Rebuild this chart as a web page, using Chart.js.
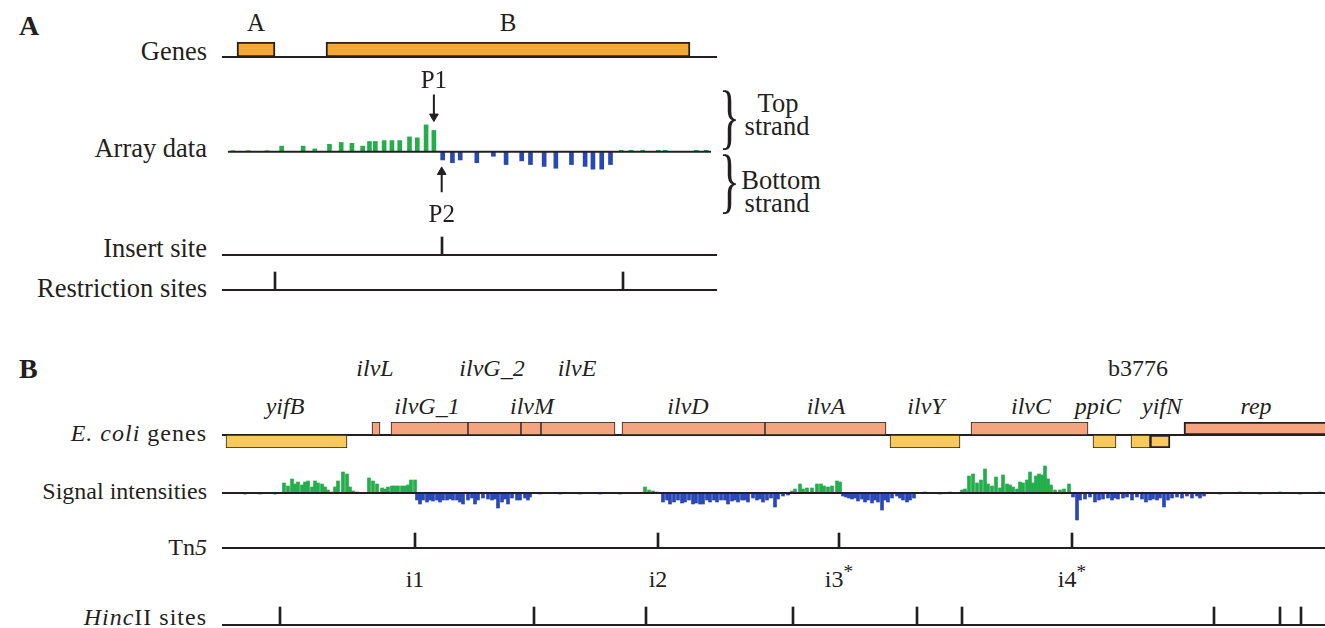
<!DOCTYPE html>
<html><head><meta charset="utf-8">
<script src="https://cdn.jsdelivr.net/npm/chart.js@4.4.1/dist/chart.umd.min.js"></script>
<style>
html,body{margin:0;padding:0;background:#fff;}
#fig{position:relative;width:1325px;height:628px;overflow:hidden;font-family:'Liberation Serif','Times New Roman',serif;color:#231f20;}
.lbl{position:absolute;white-space:nowrap;line-height:1;}
canvas{position:absolute;}
</style></head><body><div id="fig"></div>
<script>
// ---------------- DATA (positions in bp along each map) ----------------
// Panel A
const genesA_names = ['A', 'B'];
const genesA_start = [150, 1040];
const genesA_end   = [530, 4680];
const arrayA_topPos = [50,210,400,550,770,890,1040,1160,1270,1380,1450,1510,1600,1680,1760,1860,1940,2030,2110,4030,4130,4250,4410,4480,4800,4900];
const arrayA_topVal = [0.1,0.1,0.1,0.6,0.6,0.3,0.8,1.0,0.9,0.6,1.1,1.1,1.2,1.2,1.2,1.6,1.5,2.9,2.3,0.15,0.15,0.15,0.15,0.15,0.15,0.15];
const arrayA_botPos = [2200,2300,2380,2550,2720,2850,3010,3100,3240,3360,3520,3660,3740,3830,3920];
const arrayA_botVal = [-0.9,-1.2,-0.9,-1.2,-0.5,-1.4,-1.0,-1.4,-1.6,-1.8,-1.4,-1.6,-1.9,-1.9,-1.4];
const promoterNames = ['P1', 'P2'];
const promoterPos   = [2110, 2190];
const insertSiteA   = [2200];
const restrictionA  = [530, 4010];

// Panel B
const genesB_names  = ['yifB','ilvL','ilvG_1','ilvG_2','ilvM','ilvE','ilvD','ilvA','ilvY','ilvC','ppiC','b3776','yifN','rep'];
const genesB_start  = [80,3000,3380,4920,5980,6380,8000,10860,13360,14980,17420,18180,18560,19240];
const genesB_end    = [2500,3160,4920,5980,6380,7860,10860,13280,14760,17320,17880,18560,18960,22600];
const genesB_strand = ['-','+','+','+','+','+','+','+','-','+','-','-','-','+'];
const genesB_labelX = [1260,3060,4100,5400,6200,7100,9320,12080,14080,16180,17520,18320,18800,20680];
const genesB_labelRow = [2,1,2,1,2,1,2,2,2,2,2,1,2,2];

const sigTopPos = [1240,1320,1400,1460,1520,1600,1660,1720,1800,1860,1920,2000,2060,2120,2200,2260,2320,2420,2500,2560,2620,2700,
  2940,3020,3100,3200,3260,3320,3400,3460,3520,3600,3660,3720,3780,3860,
  8460,8540,8620,8700,
  11400,11460,11560,11620,11700,11800,11900,11980,12040,12120,12200,12300,12360,
  14060,14560,
  14800,14860,14940,15020,15100,15180,15260,15320,15400,15480,15560,15620,15700,15760,15820,15900,15960,16020,16100,16160,16220,16280,16340,16400,16460,16520,16580,16660,16760,16840,16940,
  20360,21160,21960];
const sigTopVal = [1.0,0.7,1.4,0.9,1.1,0.8,1.1,1.2,0.6,1.2,1.0,0.9,0.6,0.3,0.1,0.6,1.2,2.1,1.9,0.6,0.2,0.1,
  1.5,1.2,0.9,0.5,0.4,0.6,0.7,0.7,0.7,0.7,0.7,0.8,1.3,1.3,
  0.6,0.3,0.2,0.1,
  0.2,0.4,0.9,0.4,0.5,0.5,0.9,0.9,0.7,0.6,0.7,1.2,1.1,
  0.1,0.1,
  0.3,0.4,1.7,1.9,1.0,1.3,2.4,0.9,0.7,1.6,0.5,1.8,0.9,0.8,0.6,0.4,1.1,1.0,1.3,2.1,1.0,1.7,1.9,1.8,2.7,1.4,0.8,0.3,0.3,0.4,0.9,
  0.1,0.1,0.1];
const sigBotPos = [460,760,1060,
  3900,3960,4020,4100,4160,4220,4300,4360,4420,4500,4560,4620,4700,4760,4820,4920,5000,5060,5120,5220,5320,5400,5460,5520,5600,5660,5720,5800,5900,5960,6060,6120,6160,
  6360,6760,7160,7560,7960,
  8820,8900,8960,9040,9120,9200,9260,9340,9420,9480,9560,9620,9700,9760,9840,9900,9980,10060,10120,10200,10260,10320,10400,10460,10520,10620,10700,10760,10820,10900,10980,11060,11120,11220,11320,
  12420,12480,12540,12600,12660,12720,12800,12860,12920,13000,13060,13120,13200,13260,13320,13400,13500,13560,13620,13700,13760,13840,
  14360,
  17020,17100,17160,17260,17360,17460,17540,17620,17720,17800,17860,17920,18020,18100,18200,18300,18400,18480,18560,18620,18700,18760,18840,18920,19000,19100,19200,19300,19400,19500,19560,19640,
  19960,20760,21560];
const sigBotVal = [-0.1,-0.1,-0.1,
  -0.7,-1.1,-0.7,-0.9,-0.7,-0.8,-0.7,-0.9,-0.7,-0.7,-0.6,-0.7,-0.7,-0.9,-1.1,-0.7,-0.5,-1.1,-0.7,-0.5,-0.6,-0.7,-0.6,-1.5,-0.9,-0.6,-1.1,-0.5,-0.7,-0.7,-0.5,-0.7,-0.4,
  -0.1,-0.1,-0.1,-0.1,-0.1,
  -0.9,-0.7,-1.1,-0.9,-0.7,-1.0,-0.9,-0.7,-1.1,-1.0,-1.1,-1.1,-0.7,-0.9,-0.7,-0.9,-0.7,-0.7,-1.1,-0.8,-0.7,-0.9,-0.7,-0.7,-0.9,-0.5,-0.7,-0.6,-0.9,-0.7,-0.5,-1.4,-0.6,-0.3,-0.2,
  -0.3,-0.4,-0.5,-0.6,-0.5,-0.8,-0.6,-0.9,-0.7,-1.0,-0.7,-0.9,-1.7,-0.7,-0.9,-0.5,-0.3,-0.5,-0.7,-0.9,-0.7,-0.5,
  -0.1,
  -0.4,-2.7,-0.7,-0.6,-0.4,-0.9,-0.7,-0.6,-0.5,-0.7,-0.5,-0.6,-0.5,-0.4,-0.7,-0.4,-0.6,-0.9,-0.7,-0.6,-0.7,-0.5,-1.4,-0.7,-0.5,-0.4,-0.5,-0.3,-0.5,-0.3,-0.5,-0.3,
  -0.1,-0.1,-0.1];
const tn5Names = ['i1','i2','i3','i4'];
const tn5Star  = [false,false,true,true];
const tn5Pos   = [3860, 8720, 12340, 17000];
const hincIIPos = [1160, 6240, 8480, 11420, 13900, 14800, 19840, 21160, 21580];

// ---------------- STYLE / LAYOUT ----------------
const INK = '#231f20', GREEN = '#23ae4b', BLUE = '#2a47b6';
const ORANGE = '#f2a833', SALMON = '#f4a47f', YELLOW = '#f8ca5c';
const fig = document.getElementById('fig');
const PANEL_A = {left: 222, width: 495, xMax: 4950};
const PANEL_B = {left: 222, width: 1103, xMax: 22060};
const FA = 26.5, FB = 24;

function track(panel, baseY, unit, above, below, datasets) {
  const c = document.createElement('canvas');
  const h = above + below;
  c.width = panel.width; c.height = h;
  c.style.left = panel.left + 'px'; c.style.top = (baseY - above) + 'px';
  c.style.width = panel.width + 'px'; c.style.height = h + 'px';
  fig.appendChild(c);
  return new Chart(c, {
    type: 'bar',
    data: {datasets},
    options: {
      responsive: false, animation: false, devicePixelRatio: 1, events: [],
      layout: {padding: 0},
      plugins: {legend: {display: false}, tooltip: {enabled: false}},
      scales: {
        x: {type: 'linear', min: 0, max: panel.xMax, display: false, offset: false},
        y: {type: 'linear', min: -below / unit, max: above / unit, display: false, offset: false}
      }
    }
  });
}
function baseline(panel, order) {
  return {type: 'line', data: [{x: 0, y: 0}, {x: panel.xMax, y: 0}], borderColor: INK, borderWidth: 2,
          pointRadius: 0, order: order};
}
function siteBars(pos) {
  return {type: 'bar', data: pos.map(p => ({x: p, y: 1})), backgroundColor: INK, barThickness: 2, order: 1};
}
function signalBars(tp, tv, bp, bv, thick) {
  const d = tp.map((p, i) => ({x: p, y: tv[i]})).concat(bp.map((p, i) => ({x: p, y: bv[i]})));
  return {type: 'bar', data: d, barThickness: thick, order: 1,
          backgroundColor: ctx => (ctx.raw && ctx.raw.y < 0) ? BLUE : GREEN};
}
function geneBars(starts, ends, strands, colors, borders, thick) {
  return {type: 'bar', indexAxis: 'y', order: 0,
    data: starts.map((s, i) => ({x: [s, ends[i]], y: strands[i] === '+' ? 0.5 : -0.5})),
    backgroundColor: colors, borderColor: INK, borderWidth: borders, borderSkipped: false, barThickness: thick};
}
function arrow(x, yTail, yHead, rot) {
  return {type: 'line', data: [{x: x, y: yTail}, {x: x, y: yHead}], borderColor: INK, borderWidth: 2,
          pointRadius: [0, 5], pointStyle: 'triangle', pointRotation: rot, pointBackgroundColor: INK,
          pointBorderColor: INK, pointBorderWidth: 1, order: 0};
}
function label(html, x, base, size, align, extra) {
  const d = document.createElement('div');
  d.className = 'lbl'; d.innerHTML = html;
  d.style.fontSize = size + 'px';
  d.style.top = (base - 0.8375 * size) + 'px';
  if (align === 'right') { d.style.right = (1325 - x) + 'px'; }
  else if (align === 'center') { d.style.left = x + 'px'; d.style.transform = 'translateX(-50%)'; }
  else { d.style.left = x + 'px'; }
  if (extra) Object.assign(d.style, extra);
  fig.appendChild(d);
  return d;
}
const xpx = (chart, v) => chart.canvas.offsetLeft + chart.scales.x.getPixelForValue(v);
const STAR = '<span style="position:relative;top:-0.45em;font-size:0.8em">*</span>';

// ---------------- PANEL A ----------------
const genesA = track(PANEL_A, 57, 15, 15, 15, [
  baseline(PANEL_A, 1),
  geneBars(genesA_start, genesA_end, ['+', '+'], ORANGE, 2, 15)
]);
const arrayA = track(PANEL_A, 152, 10, 82, 73, [
  baseline(PANEL_A, 0),
  signalBars(arrayA_topPos, arrayA_topVal, arrayA_botPos, arrayA_botVal, 4),
  arrow(promoterPos[0], 6.2, 3.8, 180),
  arrow(promoterPos[1], -4.4, -2.2, 0)
]);
const insertA = track(PANEL_A, 255, 18, 23, 3, [baseline(PANEL_A, 0), siteBars(insertSiteA)]);
const restrA  = track(PANEL_A, 290, 18, 23, 3, [baseline(PANEL_A, 0), siteBars(restrictionA)]);

label('A', 19, 35, 28, 'left', {fontWeight: 'bold'});
label('Genes', 207, 60, FA, 'right');
genesA_names.forEach((n, i) => label(n, xpx(genesA, (genesA_start[i] + genesA_end[i]) / 2), 31, 25, 'center'));
label('Array data', 207, 157, FA, 'right');
label(promoterNames[0], xpx(arrayA, promoterPos[0]), 88, 25, 'center');
label(promoterNames[1], xpx(arrayA, promoterPos[1]), 222, 25, 'center');
label('}', 719, 140, 72, 'left', {transform: 'scaleX(0.6)', transformOrigin: 'left'});
label('}', 719, 204, 72, 'left', {transform: 'scaleX(0.6)', transformOrigin: 'left'});
label('Top', 778, 112, FA, 'center');
label('strand', 777, 135, FA, 'center');
label('Bottom', 781, 189, FA, 'center');
label('strand', 777, 212, FA, 'center');
label('Insert site', 207, 257, FA, 'right');
label('Restriction sites', 207, 297, FA, 'right');

// ---------------- PANEL B ----------------
const genesB = track(PANEL_B, 435, 13, 13, 13, [
  baseline(PANEL_B, 1),
  geneBars(genesB_start, genesB_end, genesB_strand,
           genesB_strand.map(s => s === '+' ? SALMON : YELLOW),
           genesB_names.map(n => (n === 'yifN' || n === 'rep') ? 2 : 1), 13)
]);
const sigB = track(PANEL_B, 493, 10, 35, 35, [
  baseline(PANEL_B, 0),
  signalBars(sigTopPos, sigTopVal, sigBotPos, sigBotVal, 3)
]);
const tn5B   = track(PANEL_B, 548, 15, 20, 3, [baseline(PANEL_B, 0), siteBars(tn5Pos)]);
const hincB  = track(PANEL_B, 625, 18, 23, 3, [baseline(PANEL_B, 0), siteBars(hincIIPos)]);

label('B', 19, 378, 28, 'left', {fontWeight: 'bold'});
genesB_names.forEach((n, i) => {
  const html = n === 'b3776' ? n : '<i>' + n + '</i>';
  label(html, xpx(genesB, genesB_labelX[i]), genesB_labelRow[i] === 1 ? 376 : 414, FB, 'center');
});
label('<i>E. coli</i> genes', 207, 441, FB, 'right', {letterSpacing: '1px'});
label('Signal intensities', 207, 499, FB, 'right');
label('Tn<i>5</i>', 207, 555, FB, 'right');
tn5Names.forEach((n, i) => label(n + (tn5Star[i] ? STAR : ''), xpx(tn5B, tn5Pos[i]), 587, FB, 'center'));
label('<i>Hinc</i>II sites', 207, 625, FB, 'right', {letterSpacing: '1px'});
</script></body></html>
